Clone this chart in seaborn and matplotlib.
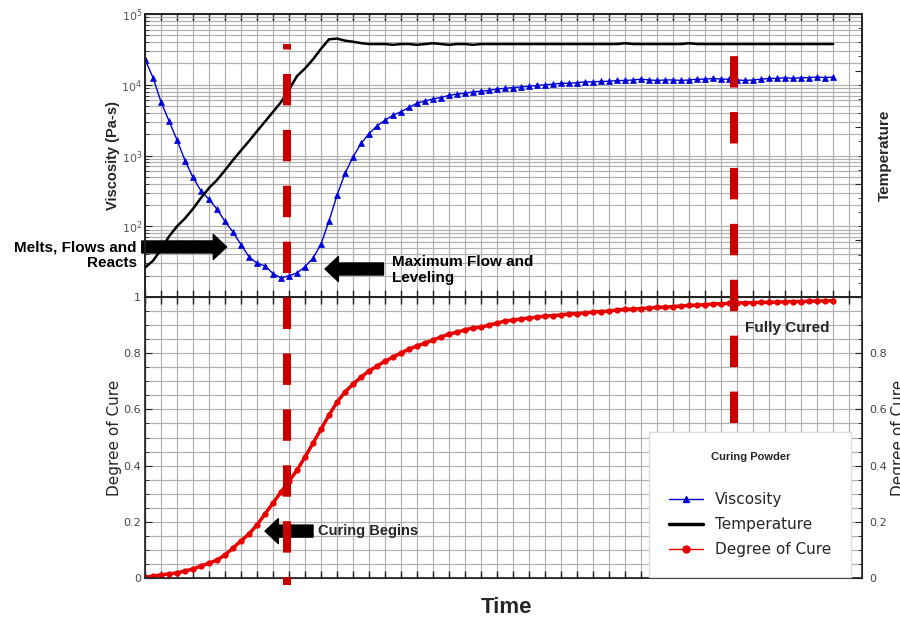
import numpy as np
import pandas as pd
import matplotlib
matplotlib.use("Agg")
import matplotlib.pyplot as plt
import matplotlib.transforms as mtransforms
from matplotlib.lines import Line2D
from matplotlib.ticker import MultipleLocator, FixedLocator, LogLocator, NullFormatter
import seaborn as sns

# sample times (arbitrary units, one grid column = 1)
time = np.arange(0, 43.5, 0.5)

viscosity = [22900, 12600, 5750, 3090, 1660, 850, 490, 316, 240, 174,
             117, 83, 55, 37, 30, 27.5, 21.4, 18.6, 20, 21.9,
             26.9, 35.5, 56, 120, 275, 562, 955, 1480, 2040, 2630,
             3160, 3720, 4170, 4790, 5500, 5890, 6310, 6610, 7080, 7410,
             7590, 7940, 8130, 8320, 8710, 8910, 9120, 9330, 9550, 9770,
             10000, 10200, 10500, 10500, 10700, 11000, 11000, 11200, 11200, 11500,
             11500, 11700, 12000, 11700, 11500, 11700, 11700, 11500, 11700, 12000,
             12000, 12300, 12000, 12000, 11700, 11500, 11700, 12000, 12300, 12300,
             12600, 12300, 12600, 12600, 12900, 12600, 12900]

temperature = [26, 32, 42, 53.5, 62.5, 69.5, 78, 87.6, 96.3, 103.4,
               112, 121, 129.5, 137.8, 146.5, 155, 163.6, 172.2, 183.3, 195.2,
               202, 210, 219.3, 227.7, 228.3, 226.5, 225.5, 224.3, 223.5, 223.5,
               223.5, 222.8, 223.5, 223.5, 222.8, 223.5, 224.2, 223.5, 222.8, 223.5,
               223.5, 222.8, 223.5, 223.5, 223.5, 223.5, 223.5, 223.5, 223.5, 223.5,
               223.5, 223.5, 223.5, 223.5, 223.5, 223.5, 223.5, 223.5, 223.5, 223.5,
               224.2, 223.5, 223.5, 223.5, 223.5, 223.5, 223.5, 223.5, 224.2, 223.5,
               223.5, 223.5, 223.5, 223.5, 223.5, 223.5, 223.5, 223.5, 223.5, 223.5,
               223.5, 223.5, 223.5, 223.5, 223.5, 223.5, 223.5]

cure = [0.003, 0.007, 0.011, 0.015, 0.018, 0.025, 0.032, 0.043, 0.053, 0.064,
        0.082, 0.107, 0.132, 0.157, 0.189, 0.228, 0.267, 0.306, 0.345, 0.384,
        0.431, 0.480, 0.530, 0.580, 0.626, 0.662, 0.690, 0.715, 0.737, 0.754,
        0.772, 0.786, 0.801, 0.815, 0.826, 0.836, 0.847, 0.858, 0.868, 0.875,
        0.883, 0.890, 0.893, 0.900, 0.907, 0.915, 0.918, 0.922, 0.925, 0.929,
        0.932, 0.934, 0.936, 0.940, 0.941, 0.943, 0.947, 0.948, 0.950, 0.954,
        0.956, 0.957, 0.959, 0.961, 0.963, 0.964, 0.966, 0.968, 0.970, 0.971,
        0.973, 0.975, 0.976, 0.977, 0.979, 0.979, 0.980, 0.981, 0.981, 0.982,
        0.983, 0.984, 0.984, 0.985, 0.986, 0.986, 0.987]

cure_begins = 8.875
fully_cured = 36.8

visc_ticks = [1e2, 1e3, 1e4, 1e5]
visc_ticklabels = ["$10^2$", "$10^3$", "$10^4$", "$10^5$"]
cure_ticks = [0, 0.2, 0.4, 0.6, 0.8, 1]
cure_ticklabels = ["0", "0.2", "0.4", "0.6", "0.8", "1"]
cure_ticks_right = [0, 0.2, 0.4, 0.6, 0.8]
cure_ticklabels_right = ["0", "0.2", "0.4", "0.6", "0.8"]

df = pd.DataFrame({"time": time, "viscosity": viscosity,
                   "temperature": temperature, "cure": cure})

sns.set_style("white")
plt.rcParams["font.family"] = ["Liberation Sans", "DejaVu Sans"]

blue = "#0000d4"
red = "#e80000"
dash_red = "#c90000"
tick_font = dict(family="DejaVu Sans", size=8)

fig = plt.figure(figsize=(9, 6.21), dpi=100)
ax1 = fig.add_axes([0.1611, 0.5217, 0.7967, 0.4557])
ax2 = fig.add_axes([0.1611, 0.0692, 0.7967, 0.4525])
xmax = 44.8

for ax in (ax1, ax2):
    ax.set_xlim(0, xmax)
    ax.xaxis.set_major_locator(MultipleLocator(1))
    ax.tick_params(axis="x", which="both", direction="in", top=True, bottom=True,
                   labelbottom=False, length=5, width=1, color="#222222")
    ax.grid(True, which="both", color="#b0b0b0", linewidth=0.85)
    ax.set_axisbelow(True)
    for s in ax.spines.values():
        s.set_color("#222222")
        s.set_linewidth(1.2)

# --- viscosity (top, log) ---
sns.lineplot(data=df, x="time", y="viscosity", ax=ax1, color=blue, lw=1,
             marker="^", markersize=5, markeredgecolor=blue, markeredgewidth=0.5)
ax1.set_yscale("log")
ax1.set_ylim(10, 1e5)
ax1.yaxis.set_major_locator(FixedLocator(visc_ticks))
ax1.set_yticklabels(visc_ticklabels)
ax1.yaxis.set_minor_locator(LogLocator(base=10, subs=np.arange(2, 10)))
ax1.yaxis.set_minor_formatter(NullFormatter())
ax1.tick_params(axis="y", which="major", direction="in", length=5, pad=2,
                labelsize=8, labelcolor="#555555")
ax1.tick_params(axis="y", which="minor", direction="in", length=3)
ax1.set_xlabel("")
ax1.set_ylabel("Viscosity (Pa-s)", fontsize=10.5, fontweight="bold", labelpad=1)

ax1t = ax1.twinx()
sns.lineplot(data=df, x="time", y="temperature", ax=ax1t, color="black", lw=1.8)
ax1t.set_ylim(0, 250)
ax1t.yaxis.set_major_locator(MultipleLocator(50))
ax1t.yaxis.set_minor_locator(MultipleLocator(12.5))
ax1t.tick_params(axis="y", which="major", direction="in", length=5, labelright=False)
ax1t.tick_params(axis="y", which="minor", direction="in", length=3)
ax1t.set_ylabel("Temperature", fontsize=11, fontweight="bold", labelpad=8)
ax1t.grid(False)
for s in ax1t.spines.values():
    s.set_color("#222222")
    s.set_linewidth(1.2)

# --- degree of cure (bottom) ---
sns.lineplot(data=df, x="time", y="cure", ax=ax2, color=red, lw=2.5,
             marker="o", markersize=4.5, markeredgecolor=red, markeredgewidth=0)
ax2.set_ylim(0, 1)
ax2.yaxis.set_major_locator(FixedLocator(cure_ticks))
ax2.set_yticklabels(cure_ticklabels, fontdict=tick_font)
ax2.yaxis.set_minor_locator(MultipleLocator(0.05))
ax2.tick_params(axis="y", which="major", direction="in", length=5, pad=3,
                labelcolor="#444444")
ax2.tick_params(axis="y", which="minor", direction="in", length=3)
ax2.set_xlabel("")
ax2.set_ylabel("Degree of Cure", fontsize=11, family="DejaVu Sans", labelpad=1)

ax2r = ax2.twinx()
ax2r.set_ylim(0, 1)
ax2r.yaxis.set_major_locator(FixedLocator(cure_ticks_right))
ax2r.set_yticklabels(cure_ticklabels_right, fontdict=tick_font)
ax2r.yaxis.set_minor_locator(FixedLocator(np.arange(0.05, 0.95, 0.05)))
ax2r.tick_params(axis="y", which="major", direction="in", length=5, pad=5,
                 labelcolor="#444444")
ax2r.tick_params(axis="y", which="minor", direction="in", length=3)
ax2r.spines["right"].set_bounds(0, 0.91)
ax2r.spines["right"].set_color("#222222")
ax2r.set_ylabel("Degree of Cure", fontsize=11, family="DejaVu Sans", labelpad=3)

# --- dashed event lines spanning both panels ---
tr = mtransforms.blended_transform_factory(ax2.transData, fig.transFigure)
fig.add_artist(Line2D([cure_begins, cure_begins], [0.0580, 0.9291], transform=tr,
                      color=dash_red, lw=5.8, linestyle=(2.92, (3.9, 3.04))))
fig.add_artist(Line2D([fully_cured, fully_cured], [0.3188, 0.9114], transform=tr,
                      color=dash_red, lw=5.8, linestyle=(0, (3.9, 3.04))))

# --- annotations ---
arrow_kw = dict(arrowstyle="simple,head_length=0.8,head_width=1.5,tail_width=0.72",
                color="black", shrinkA=0, shrinkB=0, mutation_scale=12)
label_kw = dict(fontsize=11, fontweight="bold", color="black", clip_on=False)

ax1.annotate("", xy=(5.1, 51), xytext=(-0.2, 51), arrowprops=arrow_kw,
             annotation_clip=False)
ax1.text(-0.5, 39, "Melts, Flows and\nReacts", ha="right", va="center",
         multialignment="right", linespacing=1.15, **label_kw)

ax1.annotate("", xy=(11.25, 24.9), xytext=(14.9, 24.9), arrowprops=arrow_kw,
             annotation_clip=False)
ax1.text(15.45, 24, "Maximum Flow and\nLeveling", ha="left", va="center",
         linespacing=1.15, **label_kw)

ax2.annotate("", xy=(7.5, 0.167), xytext=(10.5, 0.167), arrowprops=arrow_kw,
             annotation_clip=False)
ax2.text(10.8, 0.167, "Curing Begins", ha="left", va="center",
         fontsize=10.5, fontweight="bold")
ax2.text(37.5, 0.89, "Fully Cured", ha="left", va="center",
         fontsize=11, fontweight="bold")

fig.text(0.563, 0.021, "Time", ha="center", va="center", fontsize=16,
         fontweight="bold")

# --- legend ---
handles = [Line2D([], [], color=blue, lw=1, marker="^", markersize=5),
           Line2D([], [], color="black", lw=2.5),
           Line2D([], [], color=red, lw=1, marker="o", markersize=5)]
leg = ax2r.legend(handles, ["Viscosity", "Temperature", "Degree of Cure"],
                  title="Curing Powder", loc="lower right",
                  bbox_to_anchor=(0.985, 0.004), borderaxespad=0,
                  prop=dict(family="DejaVu Sans", size=11),
                  title_fontproperties=dict(family="Liberation Sans", weight="bold", size=8),
                  frameon=True, fancybox=False, edgecolor="#dddddd", framealpha=1,
                  handlelength=2.2, handletextpad=0.8, labelspacing=0.65,
                  borderpad=1.3)
leg._legend_box.sep = 22

fig.savefig("out.png", dpi=100)
